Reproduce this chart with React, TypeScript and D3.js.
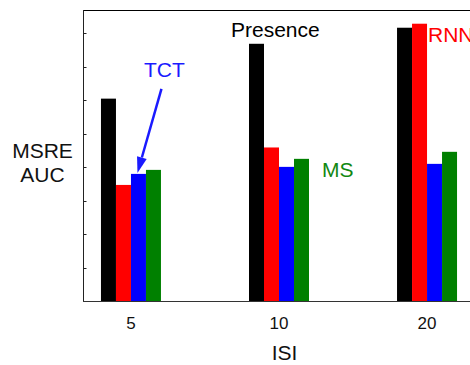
import * as d3 from 'd3';

// ISI groups and the four models
const categories = ['5', '10', '20'];
const seriesNames = ['Presence', 'RNN', 'TCT', 'MS'];
const seriesColors = ['#000000', '#ff0000', '#0000ff', '#008000'];

const presence = [6.05, 7.69, 8.17];
const rnn = [3.47, 4.59, 8.29];
const tct = [3.8, 4.01, 4.1];
const ms = [3.92, 4.25, 4.46];

const yTicks = [1, 2, 3, 4, 5, 6, 7, 8];

const width = 470;
const height = 365;
const margin = { top: 10, right: -5, bottom: 64, left: 83 };
const font = 'Liberation Sans, Arial, Helvetica, sans-serif';

export default function App() {
	const values = [presence, rnn, tct, ms];
	const innerW = width - margin.left - margin.right;
	const innerH = height - margin.top - margin.bottom;
	const x0 = margin.left;
	const x1 = margin.left + innerW;
	const yBottom = margin.top + innerH;

	// group centres
	const xScale = d3.scalePoint<string>().domain(categories).range([x0, x1]).padding(0.324);
	const groupW = 60;
	const xInner = d3.scaleBand<string>().domain(seriesNames).range([-groupW / 2, groupW / 2]);
	const bw = xInner.bandwidth();

	const yScale = d3.scaleLinear().domain([0, 8.7]).range([yBottom, margin.top]);

	const bars = seriesNames.flatMap((name, si) =>
		categories.map((cat, ci) => ({
			key: `${name}-${cat}`,
			x: (xScale(cat) ?? 0) + (xInner(name) ?? 0),
			y: yScale(values[si][ci]),
			color: seriesColors[si],
		}))
	);

	// arrow pointing at the TCT bar of the first group
	const tipX = (xScale(categories[0]) ?? 0) + (xInner('TCT') ?? 0) + bw / 2 - 1;
	const tipY = yScale(tct[0]) - 1;
	const startX = tipX + 24;
	const startY = tipY - 84;
	const ang = Math.atan2(tipY - startY, tipX - startX);
	const headLen = 16;
	const headHalf = 5;
	const baseX = tipX - headLen * Math.cos(ang);
	const baseY = tipY - headLen * Math.sin(ang);
	const px = -Math.sin(ang) * headHalf;
	const py = Math.cos(ang) * headHalf;
	const head = `M${tipX},${tipY}L${baseX + px},${baseY + py}L${baseX - px},${baseY - py}Z`;

	const labelFs = 21;

	return (
		<svg
			width={width}
			height={height}
			style={{ position: 'absolute', left: 0, top: 0, background: '#fff' }}
			fontFamily={font}
		>
			{/* bars */}
			{bars.map((b) => (
				<rect key={b.key} x={b.x} y={b.y} width={bw} height={yBottom - b.y} fill={b.color} />
			))}

			{/* axes frame */}
			<line x1={x0} x2={x1} y1={margin.top + 0.5} y2={margin.top + 0.5} stroke="#000" strokeWidth={1} />
			<line x1={x0 + 0.5} x2={x0 + 0.5} y1={margin.top} y2={yBottom} stroke="#222" strokeWidth={1} />
			<line x1={x0} x2={x1} y1={yBottom + 0.5} y2={yBottom + 0.5} stroke="#333" strokeWidth={1.2} />

			{/* y ticks, inward, no labels */}
			{yTicks.map((t) => (
				<line
					key={t}
					x1={x0}
					x2={x0 + 3.5}
					y1={Math.round(yScale(t)) + 0.5}
					y2={Math.round(yScale(t)) + 0.5}
					stroke="#222"
					strokeWidth={1}
				/>
			))}

			{/* x tick labels */}
			{categories.map((c) => (
				<text key={c} x={xScale(c)} y={329} textAnchor="middle" fontSize={17} fill="#111">
					{c}
				</text>
			))}

			{/* axis titles */}
			<text x={(x0 + 486) / 2} y={360} textAnchor="middle" fontSize={labelFs} fill="#111">
				ISI
			</text>
			<text x={42.5} y={158} textAnchor="middle" fontSize={labelFs} fill="#111">
				MSRE
			</text>
			<text x={42.5} y={182} textAnchor="middle" fontSize={labelFs} fill="#111">
				AUC
			</text>

			{/* series annotations */}
			<text x={231} y={36.5} fontSize={labelFs} fill="#000">
				Presence
			</text>
			<text x={428} y={42} fontSize={labelFs} fill="#ff0000">
				RNN
			</text>
			<text x={144} y={77} fontSize={labelFs} fill="#1a1aff">
				TCT
			</text>
			<text x={322} y={177} fontSize={labelFs} fill="#118811">
				MS
			</text>

			<line x1={startX} y1={startY} x2={baseX} y2={baseY} stroke="#1a1aff" strokeWidth={2.5} />
			<path d={head} fill="#1a1aff" />
		</svg>
	);
}
